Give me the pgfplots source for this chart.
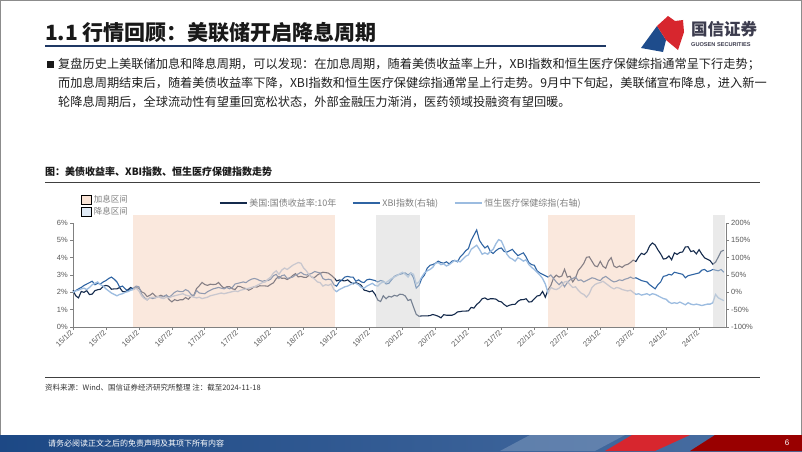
\documentclass[border=0pt]{standalone}
\usepackage{pgfplots}
\pgfplotsset{compat=1.18}
\usepackage{pgfplotstable}
\usepackage{fontspec}
\setmainfont{Liberation Sans}
\newfontfamily\cjk{Noto Sans CJK SC}
\definecolor{tsy}{HTML}{142A4C}
\definecolor{xbi}{HTML}{2F64A3}
\definecolor{hsc}{HTML}{9CBCE0}
\definecolor{hike}{HTML}{F6D3BD}
\definecolor{cutg}{HTML}{D6D6D6}
\definecolor{hikeleg}{HTML}{FAE4D6}
\definecolor{cutleg}{HTML}{E1EBF6}
\definecolor{txtgray}{HTML}{595959}
\definecolor{legtext}{HTML}{7F7F7F}
\definecolor{axgray}{HTML}{808080}
\definecolor{navyline}{HTML}{1F3864}
\definecolor{logotext}{HTML}{3C3C4E}
\definecolor{gsred}{HTML}{D7262E}
\definecolor{gsblue}{HTML}{1E4C8C}
\pgfplotstableread{
h tsy xbi hs
0 2.12 0 0
1 1.80 5 4
2 1.68 10 6
3 2.05 14 10
4 2.00 20 12
5 2.10 24 8
6 1.87 28 14
7 1.90 32 22
8 2.10 22 26
9 2.15 26 30
10 2.18 24 22
11 2.35 30 18
12 2.40 34 10
13 2.35 40 4
14 2.18 44 -2
15 2.20 38 -6
16 2.20 30 -10
17 2.28 15 -6
18 2.05 18 -4
19 2.03 10 0
20 2.15 4 2
21 2.28 10 6
22 2.17 12 8
23 2.27 18 12
24 2.24 16 4
25 2.03 -5 -10
26 1.95 -15 -18
27 1.75 -22 -22
28 1.83 -15 -16
29 1.95 -18 -14
30 1.78 -16 -16
31 1.75 -12 -12
32 1.83 -14 -16
33 1.75 -12 -18
34 1.84 -8 -14
35 1.58 -14 -16
36 1.45 -8 -12
37 1.58 0 -10
38 1.52 4 -8
39 1.57 2 -6
40 1.57 2 -4
41 1.70 8 -8
42 1.60 4 -10
43 1.77 -6 -12
44 1.83 -10 -14
45 2.22 5 -16
46 2.38 -2 -14
47 2.57 -3 -18
48 2.45 -4 -16
49 2.40 2 -14
50 2.47 6 -10
51 2.45 10 -8
52 2.46 12 -6
53 2.57 14 -4
54 2.38 12 -2
55 2.24 10 -4
56 2.32 14 -2
57 2.33 10 0
58 2.21 14 2
59 2.16 24 4
60 2.35 26 2
61 2.33 28 6
62 2.25 30 8
63 2.22 28 10
64 2.12 34 12
65 2.20 38 14
66 2.33 40 16
67 2.30 38 20
68 2.38 34 24
69 2.37 32 28
70 2.37 34 30
71 2.35 34 38
72 2.46 38 44
73 2.55 48 56
74 2.79 52 62
75 2.91 40 52
76 2.81 48 64
77 2.82 50 70
78 2.74 40 66
79 2.83 42 72
80 2.97 44 78
81 3.08 50 82
82 2.89 53 86
83 2.92 58 84
84 2.87 52 70
85 2.86 50 62
86 3.00 52 50
87 2.87 55 44
88 2.86 60 38
89 3.00 58 30
90 3.09 56 28
91 3.16 40 18
92 3.14 36 22
93 3.11 38 20
94 2.99 36 24
95 2.85 22 8
96 2.66 18 2
97 2.71 30 8
98 2.68 36 12
99 2.66 44 16
100 2.72 46 18
101 2.59 44 22
102 2.49 44 28
103 2.56 32 26
104 2.50 36 22
105 2.40 30 14
106 2.13 28 12
107 2.09 36 18
108 2.03 38 22
109 2.09 36 26
110 1.89 34 20
111 1.55 30 18
112 1.47 34 26
113 1.80 32 30
114 1.63 24 28
115 1.77 26 34
116 1.73 36 40
117 1.83 46 44
118 1.78 50 48
119 1.89 52 54
120 1.88 54 58
121 1.79 56 52
122 1.53 50 44
123 1.59 56 56
124 1.15 42 52
125 0.73 12 24
126 0.62 20 30
127 0.64 40 44
128 0.64 50 56
129 0.64 70 62
130 0.66 78 66
131 0.72 80 72
132 0.68 84 84
133 0.62 90 86
134 0.53 86 80
135 0.71 84 82
136 0.68 88 76
137 0.68 82 80
138 0.68 90 86
139 0.74 92 92
140 0.87 88 90
141 0.89 102 88
142 0.92 110 96
143 0.92 120 104
144 0.93 126 108
145 1.13 150 124
146 1.09 165 130
147 1.30 180 136
148 1.43 150 124
149 1.63 138 110
150 1.68 128 114
151 1.58 134 110
152 1.63 118 118
153 1.63 112 124
154 1.61 120 140
155 1.49 126 152
156 1.45 128 148
157 1.30 118 130
158 1.19 116 110
159 1.26 120 100
160 1.30 124 96
161 1.31 114 90
162 1.48 106 100
163 1.57 110 96
164 1.58 114 90
165 1.63 102 94
166 1.44 86 80
167 1.46 80 72
168 1.63 78 66
169 1.79 62 58
170 1.82 56 50
171 2.05 52 40
172 1.72 48 24
173 2.15 44 -2
174 2.39 50 14
175 2.83 40 10
176 2.99 30 8
177 2.88 22 12
178 2.94 30 20
179 3.33 16 30
180 2.88 28 32
181 2.93 36 22
182 2.60 40 14
183 2.84 44 16
184 3.26 34 6
185 3.45 36 -2
186 3.67 30 -6
187 4.02 34 -14
188 4.05 38 -4
189 3.79 42 14
190 3.53 40 22
191 3.48 36 26
192 3.79 34 28
193 3.50 42 32
194 3.39 46 26
195 3.81 40 20
196 4.00 34 14
197 3.51 30 10
198 3.43 32 14
199 3.52 36 12
200 3.44 34 8
201 3.57 38 6
202 3.61 40 4
203 3.72 44 6
204 3.86 40 0
205 3.78 42 -6
206 4.05 38 -4
207 4.25 34 -8
208 4.18 32 -6
209 4.33 30 -4
210 4.68 22 -8
211 4.85 16 -4
212 4.73 10 -6
213 4.45 22 -10
214 4.22 30 -14
215 3.92 46 -18
216 3.95 48 -20
217 4.10 52 -28
218 3.88 50 -32
219 4.28 58 -30
220 4.19 56 -32
221 4.30 54 -28
222 4.33 52 -32
223 4.62 42 -36
224 4.63 48 -30
225 4.35 50 -34
226 4.40 52 -36
227 4.22 54 -34
228 4.46 56 -36
229 4.20 64 -38
230 3.99 66 -36
231 3.91 60 -34
232 3.83 62 -34
233 3.62 66 -30
234 3.74 64 -6
235 4.04 62 -16
236 4.36 66 -20
237 4.43 58 -24
}\data
\pgfplotsset{/pgf/number format/assume math mode=true}
\begin{document}
\begin{tikzpicture}
\useasboundingbox (0pt,0pt) rectangle (802pt,451pt);
\fill[white] (0pt,0pt) rectangle (802pt,451pt);
\begin{scope}[x=1pt, y=-1pt, shift={(0pt,451pt)}]
\draw[black!45, line width=0.6pt] (0.3,0.3) rectangle (801.7,450.7);
% header
\node[anchor=west, inner sep=0pt, font=\cjk\bfseries\fontsize{21}{24}\selectfont, text=black!90] at (45,33) {1.1 行情回顾：美联储开启降息周期};
\draw[navyline, line width=2pt] (45,46) -- (606,46);
% logo
\fill[gsblue] (641,48) -- (657,26) -- (666,40) -- (663,52) -- cycle;
\fill[gsred] (657,26) -- (668,16) -- (675,21) -- (683,20) -- (684,32) -- (678,50) -- (666,40) -- cycle;
\node[anchor=west, inner sep=0pt, font=\cjk\bfseries\fontsize{16.5}{18}\selectfont, text=logotext] at (691,29) {国信证券};
\node[anchor=west, inner sep=0pt, font=\bfseries\fontsize{5.6}{6}\selectfont, text=logotext] at (691,45) {GUOSEN SECURITIES};
% body text
\fill[black!90] (47,60.5) rectangle (54,67.5);
\begin{scope}[every node/.style={anchor=west, inner sep=0pt, font=\cjk\fontsize{12.2}{14}\selectfont, text=black!88}]
\node at (58,64) {复盘历史上美联储加息和降息周期，可以发现：在加息周期，随着美债收益率上升，XBI指数和恒生医疗保健综指通常呈下行走势；};
\node at (58,83) {而加息周期结束后，随着美债收益率下降，XBI指数和恒生医疗保健综指通常呈上行走势。9月中下旬起，美联储宣布降息，进入新一};
\node at (58,102) {轮降息周期后，全球流动性有望重回宽松状态，外部金融压力渐消，医药领域投融资有望回暖。};
\end{scope}
% chart caption
\node[anchor=west, inner sep=0pt, font=\cjk\bfseries\fontsize{10}{12}\selectfont, text=black!90] at (45,172) {图：美债收益率、XBI指数、恒生医疗保健指数走势};
\draw[black!75, line width=1pt] (45,182) -- (760,182);
% source
\draw[black!75, line width=1pt] (45,377) -- (760,377);
\node[anchor=west, inner sep=0pt, font=\cjk\fontsize{7.5}{9}\selectfont, text=black!80] at (45,388) {资料来源：Wind、国信证券经济研究所整理 注：截至2024-11-18};
% footer
\shade[left color=gsblue!95!black, right color=gsblue!80!white] (0,435) rectangle (802,451);
\fill[gsblue!60!white, opacity=0.6] (500,451) -- (530,435) -- (625,435) -- (595,451) -- cycle;
\fill[gsred] (605,451) -- (632,435) -- (690,435) -- (655,451) -- cycle;
\fill[red!60!black] (690,451) -- (715,435) -- (802,435) -- (802,451) -- cycle;
\node[anchor=west, inner sep=0pt, font=\cjk\fontsize{8}{9}\selectfont, text=white] at (48,443) {请务必阅读正文之后的免责声明及其项下所有内容};
\node[inner sep=0pt, font=\fontsize{8}{9}\selectfont, text=white] at (787,443) {6};
\end{scope}
% left axis
\begin{axis}[
  at={(73pt,124pt)}, anchor=south west, scale only axis,
  width=653pt, height=104pt,
  xmin=0, xmax=237.8, ymin=0, ymax=6,
  axis x line*=bottom, axis y line*=left,
  axis line style={axgray, line width=0.7pt},
  tick style={axgray, line width=0.7pt}, tick align=outside,
  major tick length=3pt,
  xtick={0,12,...,228},
  xticklabels={15/1/2,15/7/2,16/1/2,16/7/2,17/1/2,17/7/2,18/1/2,18/7/2,19/1/2,19/7/2,20/1/2,20/7/2,21/1/2,21/7/2,22/1/2,22/7/2,23/1/2,23/7/2,24/1/2,24/7/2},
  xticklabel style={rotate=45, anchor=east, font=\fontsize{7.5}{8}\selectfont, text=txtgray, inner sep=1.5pt},
  ytick={0,1,...,6},
  yticklabel={\pgfmathprintnumber{\tick}\%},
  yticklabel style={font=\fontsize{7.5}{8}\selectfont, text=txtgray, inner sep=2pt},
  clip=false,
  legend style={at={(0.219,1.192)}, anchor=west, draw=none, fill=none,
    legend columns=3, font=\cjk\fontsize{9}{10}\selectfont, text=legtext,
    /tikz/every even column/.append style={column sep=14pt}},
  legend image code/.code={\draw[#1] (0pt,0pt) -- (27pt,0pt);},
]
\addplot[tsy, line width=1.1pt] table[x=h, y=tsy] {\data};
\addlegendentry{美国:国债收益率:10年}
\addlegendimage{xbi, line width=1.1pt}
\addlegendentry{XBI指数(右轴)}
\addlegendimage{hsc, line width=1.3pt}
\addlegendentry{恒生医疗保健综指(右轴)}
\end{axis}
% right axis with index series and shaded periods
\begin{axis}[
  at={(73pt,124pt)}, anchor=south west, scale only axis,
  width=653pt, height=104pt,
  xmin=0, xmax=237.8, ymin=-100, ymax=200,
  axis x line=none, axis y line*=right,
  axis line style={axgray, line width=0.7pt},
  tick style={axgray, line width=0.7pt}, tick align=outside,
  major tick length=3pt,
  ytick={-100,-50,...,200},
  yticklabel={\pgfmathprintnumber{\tick}\%},
  yticklabel style={font=\fontsize{7.5}{8}\selectfont, text=txtgray, inner sep=2pt},
  clip=false,
  legend style={at={(0.008,1.31)}, anchor=north west, draw=none, fill=none,
    legend columns=1, font=\cjk\fontsize{8.5}{9}\selectfont, text=legtext,
    row sep=0pt},
  legend image code/.code={\fill[#1] (0pt,-4.5pt) rectangle (10pt,4.5pt);},
]
\addplot[xbi, line width=1.1pt, forget plot] table[x=h, y=xbi] {\data};
\addplot[hsc, line width=1.3pt, forget plot] table[x=h, y=hs] {\data};
\addplot[draw=none, fill=hike, fill opacity=0.5, forget plot] coordinates {(22,-99) (22,223) (95.4,223) (95.4,-99)};
\addplot[draw=none, fill=cutg, fill opacity=0.5, forget plot] coordinates {(110.4,-99) (110.4,223) (126.4,223) (126.4,-99)};
\addplot[draw=none, fill=hike, fill opacity=0.5, forget plot] coordinates {(173.1,-99) (173.1,223) (204.7,223) (204.7,-99)};
\addplot[draw=none, fill=cutg, fill opacity=0.5, forget plot] coordinates {(233.2,-99) (233.2,223) (237.6,223) (237.6,-99)};
\addlegendimage{fill=hikeleg}
\addlegendentry{加息区间}
\addlegendimage{fill=cutleg}
\addlegendentry{降息区间}
\end{axis}
\end{tikzpicture}
\end{document}
